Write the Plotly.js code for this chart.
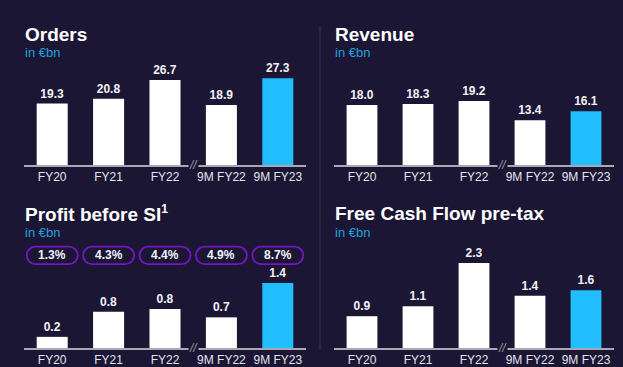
<!DOCTYPE html>
<html>
<head>
<meta charset="utf-8">
<script src="https://cdn.plot.ly/plotly-3.0.1.min.js"></script>
<style>html,body{margin:0;padding:0;background:#1b1633;}#chart{width:623px;height:367px;}</style>
</head>
<body>
<div id="chart"></div>
<script>
const categories = ['FY20', 'FY21', 'FY22', '9M FY22', '9M FY23'];
const orders = [19.3, 20.8, 26.7, 18.9, 27.3];
const revenue = [18.0, 18.3, 19.2, 13.4, 16.1];
const profitBeforeSI = [0.24, 0.78, 0.84, 0.66, 1.40];
const freeCashFlow = [0.86, 1.13, 2.30, 1.41, 1.56];
const profitMargins = ['1.3%', '4.3%', '4.4%', '4.9%', '8.7%'];
const panelTitles = ['Orders', 'Revenue', 'Profit before SI<sup><span style="font-size:12px">1</span></sup>', 'Free Cash Flow pre-tax'];
const unitLabel = 'in €bn';

const W = 623, H = 367;
const BG = '#1b1633';
const WHITE = '#ffffff';
const CYAN = '#21bfff';
const px = x => x / W;
const py = y => 1 - y / H;

const panels = [
  {vals: orders, xl: 24, xr: 306, base: 165, top: 75, ymax: 28.3, tx: 23, ty1: 34, ty2: 52.5},
  {vals: revenue, xl: 334, xr: 614, base: 165, top: 75, ymax: 27.0, tx: 333, ty1: 34, ty2: 52.5},
  {vals: profitBeforeSI, xl: 24, xr: 306, base: 348, top: 250, ymax: 2.11, tx: 23, ty1: 213, ty2: 232},
  {vals: freeCashFlow, xl: 334, xr: 614, base: 348, top: 250, ymax: 2.65, tx: 333, ty1: 213, ty2: 232}
];

const barColors = categories.map((c, i) => i === categories.length - 1 ? CYAN : WHITE);
const data = [];
const layout = {
  width: W, height: H,
  margin: {l: 0, r: 0, t: 0, b: 0},
  paper_bgcolor: BG, plot_bgcolor: BG,
  showlegend: false,
  bargap: 0.45,
  font: {family: 'Liberation Sans, Arial, sans-serif', color: '#e4e4ee', size: 12},
  annotations: [], shapes: []
};

panels.forEach((p, k) => {
  const n = k === 0 ? '' : String(k + 1);
  data.push({
    type: 'bar', x: categories, y: p.vals,
    xaxis: 'x' + n, yaxis: 'y' + n,
    marker: {color: barColors, line: {width: 0}},
    texttemplate: '%{y:.1f}', textposition: 'outside', cliponaxis: false,
    textfont: {family: 'Liberation Sans, Arial, sans-serif', size: 12, color: '#f2f2f8', weight: 700},
    hoverinfo: 'skip'
  });
  layout['xaxis' + n] = {
    domain: [px(p.xl), px(p.xr)], anchor: 'y' + n,
    type: 'category', range: [-0.5, categories.length - 0.5],
    showline: true, linecolor: '#a9a9b4', linewidth: 1.5,
    showgrid: false, zeroline: false, ticks: '',
    tickfont: {size: 12, color: '#e4e4ee'}, fixedrange: true
  };
  layout['yaxis' + n] = {
    domain: [py(p.base), py(p.top)], anchor: 'x' + n,
    range: [0, p.ymax], visible: false, showgrid: false, zeroline: false, fixedrange: true
  };
  // titles
  layout.annotations.push({
    xref: 'paper', yref: 'paper', x: px(p.tx), y: py(p.ty1), xanchor: 'left', yanchor: 'middle',
    text: panelTitles[k], showarrow: false,
    font: {size: 19, color: WHITE, weight: 700, family: 'Liberation Sans, Arial, sans-serif'}
  });
  layout.annotations.push({
    xref: 'paper', yref: 'paper', x: px(p.tx), y: py(p.ty2), xanchor: 'left', yanchor: 'middle',
    text: unitLabel, showarrow: false,
    font: {size: 13, color: '#1ea2de', family: 'Liberation Sans, Arial, sans-serif'}
  });
  // axis break mark between FY22 and 9M FY22
  layout.annotations.push({
    xref: 'x' + n, yref: 'paper', x: 2.5, y: py(p.base), xanchor: 'center', yanchor: 'middle',
    text: '<i>//</i>', showarrow: false, bgcolor: BG, borderpad: 0,
    font: {size: 12, color: '#9a9aa8'}
  });
});

// margin pills above Profit before SI chart
(function () {
  const p = panels[2];
  const slot = (p.xr - p.xl) / categories.length;
  const w = 51, h = 17.4, cy = 255.4, r = h / 2, kk = 0.5523 * r;
  profitMargins.forEach((m, i) => {
    const cx = p.xl + (i + 0.5) * slot;
    const L = cx - w / 2, R = cx + w / 2, T = cy - h / 2, B = cy + h / 2;
    const P = (x, y) => px(x).toFixed(5) + ',' + py(y).toFixed(5);
    const path = 'M' + P(L + r, T) + ' L' + P(R - r, T) +
      ' C' + P(R - r + kk, T) + ' ' + P(R, cy - kk) + ' ' + P(R, cy) +
      ' C' + P(R, cy + kk) + ' ' + P(R - r + kk, B) + ' ' + P(R - r, B) +
      ' L' + P(L + r, B) +
      ' C' + P(L + r - kk, B) + ' ' + P(L, cy + kk) + ' ' + P(L, cy) +
      ' C' + P(L, cy - kk) + ' ' + P(L + r - kk, T) + ' ' + P(L + r, T) + ' Z';
    layout.shapes.push({type: 'path', xref: 'paper', yref: 'paper', path: path,
      line: {color: '#7614c6', width: 1.8}, fillcolor: 'rgba(0,0,0,0)'});
    layout.annotations.push({
      xref: 'x3', yref: 'paper', x: categories[i], y: py(cy), xanchor: 'center', yanchor: 'middle',
      text: m, showarrow: false,
      font: {size: 12, color: '#f2f2f8', weight: 700}
    });
  });
})();

// vertical divider
layout.shapes.push({type: 'line', xref: 'paper', yref: 'paper',
  x0: px(320), x1: px(320), y0: py(26), y1: py(350),
  line: {color: '#34304f', width: 1.2}});

Plotly.newPlot('chart', data, layout, {displayModeBar: false, staticPlot: true});
</script>
</body>
</html>
